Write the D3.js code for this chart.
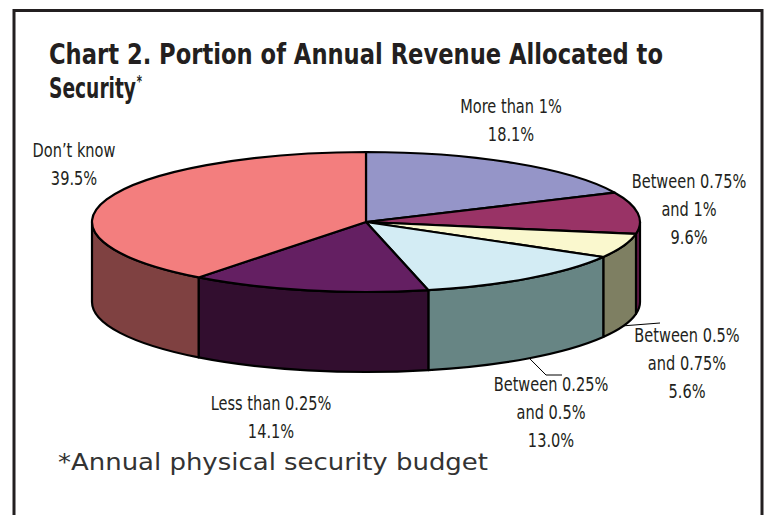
<!DOCTYPE html>
<html>
<head>
<meta charset="utf-8">
<script src="https://cdn.jsdelivr.net/npm/d3@7/dist/d3.min.js"></script>
<style>
  html, body { margin: 0; padding: 0; background: #fff; }
  svg { display: block; }
</style>
</head>
<body>
<div id="chart"></div>
<script>
// ---- data ----
const categories = [
  "More than 1%",
  "Between 0.75% and 1%",
  "Between 0.5% and 0.75%",
  "Between 0.25% and 0.5%",
  "Less than 0.25%",
  "Don’t know"
];
const values = [18.1, 9.6, 5.6, 13.0, 14.1, 39.5];
// category text as it is broken over lines next to the pie
const labelLines = [
  ["More than 1%"],
  ["Between 0.75%", "and 1%"],
  ["Between 0.5%", "and 0.75%"],
  ["Between 0.25%", "and 0.5%"],
  ["Less than 0.25%"],
  ["Don’t know"]
];
const titleLines = ["Chart 2. Portion of Annual Revenue Allocated to", "Security"];
const footnote = "*Annual physical security budget";

// ---- styles & layout ----
const topColors  = ["#9595C8", "#993366", "#FAF8CE", "#D3ECF4", "#641F62", "#F37E7E"];
const sideColors = ["#4B4B64", "#661A4A", "#7E7F62", "#678584", "#320E2F", "#7F4141"];
// label block: centre x, first baseline y
const labelPos = [
  [511, 113], [689, 188], [687, 342], [551, 391], [271, 410], [74, 157]
];
// leader line bends/ends (null = no leader)
const leaderEnds = [null, null, [[660, 323]], [[546, 375], [562, 375]], null, null];

const W = 765, H = 515;
const cx = 366, cy = 222, rx = 274, ry = 70, depth = 80;
const lineGap = 28;
const labelSqueeze = 0.81;   // narrow the label face horizontally
const titleSqueeze = 0.74;

const svg = d3.select("#chart").append("svg")
  .attr("width", W).attr("height", H);

// frame
svg.append("path")
  .attr("d", `M14,${H + 5} L14,10.5 L762,10.5 L762,${H + 5}`)
  .attr("fill", "none").attr("stroke", "#231F20").attr("stroke-width", 3);

// title
const title = svg.append("g")
  .attr("font-family", "'Liberation Sans Narrow', 'DejaVu Sans Condensed', Arial, sans-serif")
  .attr("font-weight", "bold").attr("fill", "#231F20");
title.append("text").attr("x", 49).attr("y", 64).attr("font-size", 28)
  .attr("textLength", 614).attr("lengthAdjust", "spacingAndGlyphs")
  .text(titleLines[0]);
const t2 = title.append("g").attr("transform", `translate(49,98) scale(${titleSqueeze},1)`)
  .append("text").attr("font-size", 28);
t2.append("tspan").text(titleLines[1]);
t2.append("tspan").attr("font-size", 15).attr("dy", -11).attr("dx", 1).text("*");

// ---- pie geometry ----
const pie = d3.pie().sort(null).startAngle(0).endAngle(2 * Math.PI);
const arcs = pie(values);

// projected point on the ellipse, angle measured clockwise from 12 o'clock
const pt = (a, dy = 0) => [cx + rx * Math.sin(a), cy - ry * Math.cos(a) + dy];
const f = p => `${p[0].toFixed(2)},${p[1].toFixed(2)}`;

function topPath(a0, a1) {
  const large = (a1 - a0) > Math.PI ? 1 : 0;
  return `M${cx},${cy} L${f(pt(a0))} A${rx},${ry} 0 ${large} 1 ${f(pt(a1))} Z`;
}
function sidePath(a0, a1) {
  const s = Math.max(a0, Math.PI / 2), e = Math.min(a1, 3 * Math.PI / 2);
  if (e <= s) return null;
  return `M${f(pt(s))} A${rx},${ry} 0 0 1 ${f(pt(e))} ` +
         `L${f(pt(e, depth))} A${rx},${ry} 0 0 0 ${f(pt(s, depth))} Z`;
}

const pieG = svg.append("g")
  .attr("stroke", "#000").attr("stroke-width", 2.2).attr("stroke-linejoin", "round");

// front walls
arcs.forEach((d, i) => {
  const p = sidePath(d.startAngle, d.endAngle);
  if (p) pieG.append("path").attr("d", p).attr("fill", sideColors[i]);
});
// top faces
arcs.forEach((d, i) => {
  pieG.append("path").attr("d", topPath(d.startAngle, d.endAngle)).attr("fill", topColors[i]);
});

// leader lines from the bottom rim at each slice's mid angle
arcs.forEach((d, i) => {
  if (!leaderEnds[i]) return;
  const mid = (d.startAngle + d.endAngle) / 2;
  const pts = [pt(mid, depth)].concat(leaderEnds[i]);
  svg.append("path").attr("d", d3.line()(pts))
    .attr("fill", "none").attr("stroke", "#000").attr("stroke-width", 1);
});

// ---- labels ----
const fmt = d3.format(".1f");
const labG = svg.append("g")
  .attr("font-family", "'Liberation Sans Narrow', 'DejaVu Sans Condensed', Arial, sans-serif")
  .attr("font-size", 20).attr("fill", "#231F20").attr("text-anchor", "middle");
arcs.forEach((d, i) => {
  const lines = labelLines[i].concat([fmt(values[i]) + "%"]);
  lines.forEach((ln, k) => {
    labG.append("g")
      .attr("transform", `translate(${labelPos[i][0]},${labelPos[i][1] + k * lineGap}) scale(${labelSqueeze},1)`)
      .append("text").text(ln);
  });
});

// footnote
svg.append("text")
  .attr("x", 58).attr("y", 470)
  .attr("font-family", "'DejaVu Sans', Verdana, sans-serif")
  .attr("font-size", 23).attr("fill", "#333")
  .attr("textLength", 430).attr("lengthAdjust", "spacingAndGlyphs")
  .text(footnote);
</script>
</body>
</html>
